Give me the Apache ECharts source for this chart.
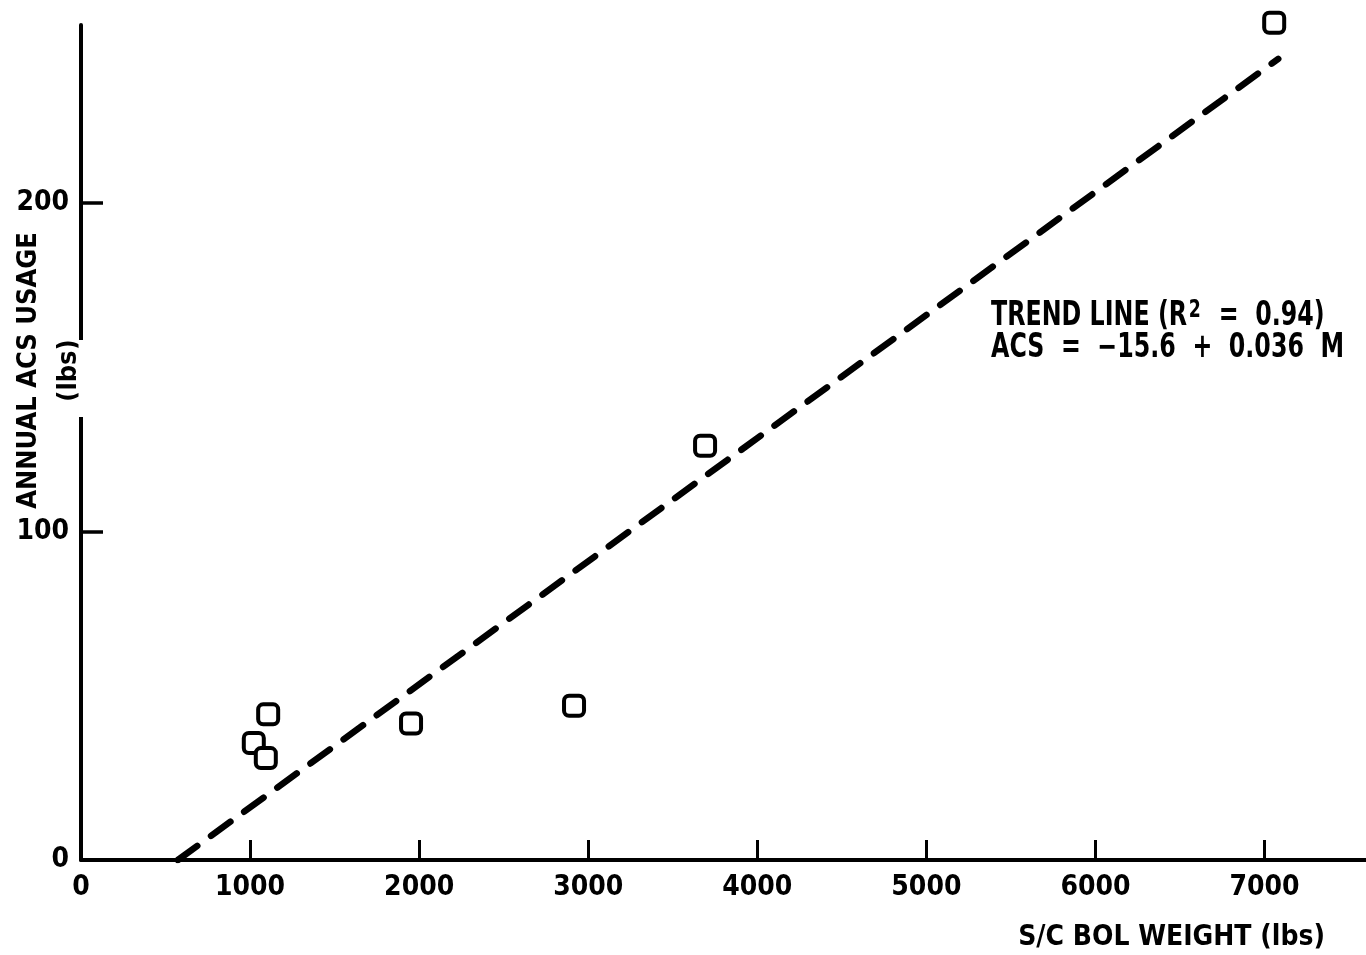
<!DOCTYPE html>
<html>
<head>
<meta charset="utf-8">
<title>Annual ACS usage vs S/C BOL weight</title>
<script src="https://cdn.jsdelivr.net/npm/echarts@6/dist/echarts.min.js"></script>
<style>
  html, body { margin: 0; padding: 0; background: #fff; }
  #chart { width: 1366px; height: 955px; }
</style>
</head>
<body>
<div id="chart"></div>
<script>
// 数据: S/C BOL weight (lbs) / annual ACS usage (lbs)
const weightLbs = [7057, 3691, 2916, 1952, 1107, 1022, 1093];
const acsUsage = [254.7, 126, 46.9, 41.5, 44.3, 35.6, 31.0];
// trend line end points as drawn
const trendWeight = [573, 7081];
const trendAcs = [0, 243.7];
// tick labels
const xTicks = [0, 1000, 2000, 3000, 4000, 5000, 6000, 7000];
const yTicks = [0, 100, 200];

const FONT = '"Liberation Sans Narrow", "DejaVu Sans Condensed", sans-serif';

function drawChart() {
  // 1.实例化对象
  let myChart = echarts.init(document.getElementById('chart'));
  let points = weightLbs.map((w, i) => [w, acsUsage[i]]);
  let trend = trendWeight.map((w, i) => [w, trendAcs[i]]);

  // 2.指定配置和数据
  let option = {
    backgroundColor: '#fff',
    animation: false,
    grid: {
      left: 81,
      right: 0,
      top: 25,
      bottom: 95,
      containLabel: false,
      outerBoundsMode: 'none',
    },
    xAxis: {
      type: 'value',
      min: 0,
      max: 7600,
      interval: 1000,
      name: 'S/C BOL WEIGHT (lbs)',
      nameLocation: 'end',
      nameGap: 0,
      nameMoveOverlap: false,
      nameTextStyle: {
        color: '#000',
        fontFamily: FONT,
        fontWeight: 'bold',
        fontSize: 28,
        align: 'right',
        verticalAlign: 'top',
        padding: [64, 41, 0, 0],
      },
      axisLine: { show: true, lineStyle: { color: '#000', width: 4 } },
      axisTick: {
        show: true,
        inside: true,
        length: 20,
        customValues: xTicks.filter(v => v > 0),
        lineStyle: { color: '#000', width: 3 },
      },
      axisLabel: {
        customValues: xTicks,
        formatter: v => String(v),
        color: '#000',
        fontFamily: FONT,
        fontWeight: 'bold',
        fontSize: 28,
        margin: 14,
      },
      splitLine: { show: false },
    },
    yAxis: {
      type: 'value',
      min: 0,
      max: 254,
      interval: 100,
      name: 'ANNUAL ACS USAGE\n(lbs)',
      nameLocation: 'middle',
      nameRotate: 90,
      nameGap: -8,
      nameMoveOverlap: false,
      nameTextStyle: {
        color: '#000',
        fontFamily: FONT,
        fontWeight: 'bold',
        fontSize: 27,
        lineHeight: 40,
        padding: [0, 0, 0, 144],
      },
      axisLine: { show: true, lineStyle: { color: '#000', width: 4 } },
      axisTick: {
        show: true,
        inside: true,
        length: 22,
        customValues: yTicks.filter(v => v > 0),
        lineStyle: { color: '#000', width: 3.5 },
      },
      axisLabel: {
        customValues: yTicks,
        formatter: v => String(v),
        color: '#000',
        fontFamily: FONT,
        fontWeight: 'bold',
        fontSize: 28,
        margin: 12,
      },
      splitLine: { show: false },
    },
    graphic: [
      // break in the y axis beside "(lbs)"
      {
        type: 'rect',
        z: 100,
        shape: { x: 78.5, y: 340, width: 6, height: 77 },
        style: { fill: '#fff' },
      },
      {
        type: 'text',
        x: 991,
        y: 299,
        scaleX: 0.8,
        style: {
          text: '{n|TREND LINE (R}{s|2}{n|  =  0.94)}\n{n|ACS  =  −15.6  +  0.036  M}',
          fill: '#000',
          rich: {
            n: { fontFamily: FONT, fontWeight: 'bold', fontSize: 33, lineHeight: 30, fill: '#000' },
            s: { fontFamily: FONT, fontWeight: 'bold', fontSize: 24, fill: '#000', verticalAlign: 'top', padding: [0, 2, 10, 2] },
          },
        },
      },
    ],
    series: [
      {
        name: 'trend',
        type: 'line',
        data: trend,
        symbol: 'none',
        z: 1,
        lineStyle: {
          color: '#000',
          width: 6.5,
          type: [24, 17],
          cap: 'round',
        },
      },
      {
        name: 'spacecraft',
        type: 'scatter',
        data: points,
        symbol: 'roundRect',
        symbolSize: 20,
        clip: false,
        z: 3,
        itemStyle: {
          color: '#fff',
          borderColor: '#000',
          borderWidth: 4,
          opacity: 1,
        },
      },
    ],
  };

  // 3.把配置给实例对象
  myChart.setOption(option);
  // 4.让图表跟随窗口缩放
  window.addEventListener('resize', function () {
    myChart.resize();
  });
}

drawChart();
</script>
</body>
</html>
